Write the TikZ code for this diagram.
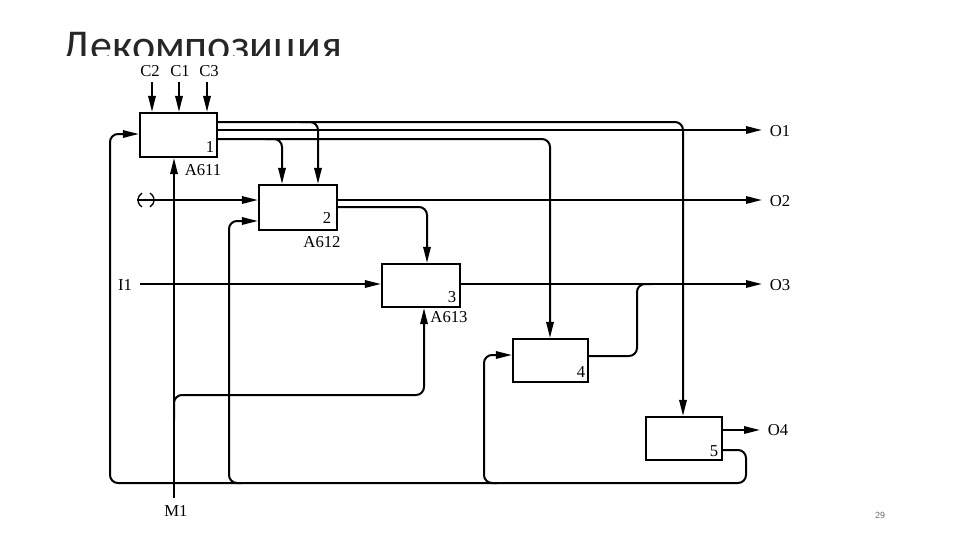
\documentclass[tikz,border=0pt]{standalone}
\usepackage{fontspec}
\setmainfont{Liberation Serif}
\newfontfamily\titlefont{Carlito}
\usetikzlibrary{arrows.meta}
\begin{document}
\begin{tikzpicture}[x=0.75pt,y=-0.75pt,
  ln/.style={line width=1.5pt,rounded corners=6pt},
  arr/.style={ln,-{Triangle[length=12pt,width=5.5pt]}},
  box/.style={draw,line width=1.6pt,inner sep=0pt,fill=white},
  lbl/.style={font=\fontsize{12.5pt}{14pt}\selectfont,inner sep=0pt}]
\useasboundingbox (0,0) rectangle (960,540);
\begin{scope}
\clip (0,0) rectangle (960,55);
\node[anchor=base west,inner sep=0pt,font=\titlefont\fontsize{33pt}{34pt}\selectfont,text=black!85] (title) at (62,60) {\smash{Декомпозиция}};
\end{scope}
% boxes
\node[box,minimum width=57.75pt,minimum height=33pt] (b1) at (178.5,135) {};
\node[box,minimum width=58.5pt,minimum height=33.75pt] (b2) at (298,207.5) {};
\node[box,minimum width=58.5pt,minimum height=32.25pt] (b3) at (421,285.5) {};
\node[box,minimum width=56.25pt,minimum height=32.25pt] (b4) at (550.5,360.5) {};
\node[box,minimum width=57pt,minimum height=32.25pt] (b5) at (684,438.5) {};
% controls
\node[lbl] (c2) at (150,71) {C2};
\node[lbl] (c1) at (180,71) {C1};
\node[lbl] (c3) at (209,71) {C3};
\draw[arr] (152,82) -- (b1.north -| 152,0);
\draw[arr] (179,82) -- (b1.north -| 179,0);
\draw[arr] (207,82) -- (b1.north -| 207,0);
% box1 outputs
\draw[arr] (217,122) -- (683,122) -- (b5.north -| 683,0);
\draw[arr] (300,122) -- (318,122) -- (b2.north -| 318,0);
\coordinate (o1e) at (762,130);
\draw[arr] (217,130) -- (o1e);
\draw[arr] (217,139) -- (550,139) -- (b4.north -| 550,0);
\draw[arr] (265,139) -- (282,139) -- (b2.north -| 282,0);
% tunnel input
\draw[line width=1pt] (146,200) ++(120:8) arc (120:240:8);
\draw[line width=1pt] (146,200) ++(-60:8) arc (-60:60:8);
\draw[arr] (137,200) -- (b2.west |- 0,200);
\draw[arr] (337,200) -- (762,200);
\draw[arr] (337,207) -- (427,207) -- (b3.north -| 427,0);
% I1
\node[lbl] (i1) at (125,285) {I1};
\draw[arr] (140,284) -- (b3.west |- 0,284);
\draw[arr] (460,284) -- (762,284);
\draw[ln] (588,356) -- (637,356) -- (637,284) -- (652,284);
% box5
\draw[arr] (722,430) -- (760,430);
\draw[arr] (722,450) -- (746,450) -- (746,483) -- (110,483) -- (110,134) -- (b1.west |- 0,134);
\draw[arr] (242,483) -- (229,483) -- (229,221) -- (b2.west |- 0,221);
\draw[arr] (497,483) -- (484,483) -- (484,355) -- (b4.west |- 0,355);
% M1
\node[lbl] (m1) at (176,511) {M1};
\draw[arr] (174,498) -- (b1.south -| 174,0);
\draw[arr] (174,420) -- (174,395) -- (424,395) -- (b3.south -| 424,0);
% labels
\node[lbl] at (210,147) {1};
\node[lbl] at (203,170) {A611};
\node[lbl] at (327,218) {2};
\node[lbl] at (322,242) {A612};
\node[lbl] at (452,297) {3};
\node[lbl] at (449,317) {A613};
\node[lbl] at (581,372) {4};
\node[lbl] at (714,451) {5};
\node[lbl] at (780,131) {O1};
\node[lbl] at (780,201) {O2};
\node[lbl] at (780,285) {O3};
\node[lbl] at (778,430) {O4};
\node[font=\sffamily\fontsize{7pt}{8pt}\selectfont,text=black!60] at (880,515) {29};
\end{tikzpicture}
\end{document}
